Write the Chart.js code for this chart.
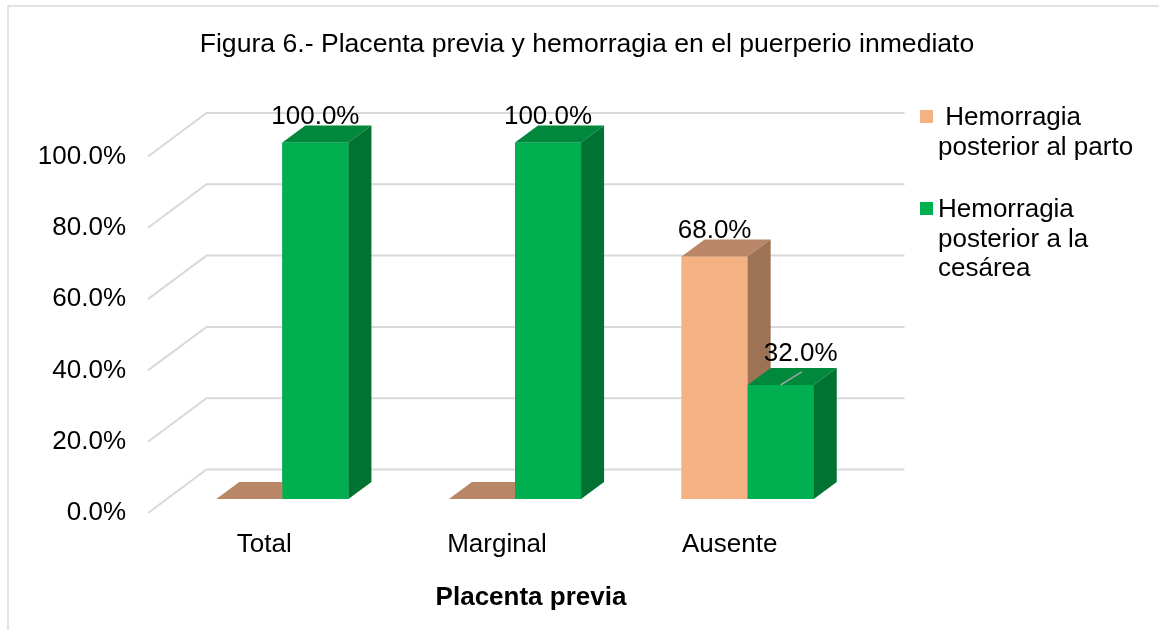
<!DOCTYPE html>
<html>
<head>
<meta charset="utf-8">
<script src="https://cdn.jsdelivr.net/npm/chart.js@4.4.0/dist/chart.umd.min.js"></script>
<style>
  html, body { margin: 0; padding: 0; background: #fff; }
  canvas { display: block; }
</style>
</head>
<body>
<canvas id="chart" width="1159" height="630"></canvas>
<script>
// data
var categories = ['Total', 'Marginal', 'Ausente'];
var partoValues = [0, 0, 68];
var cesareaValues = [100, 100, 32];
var partoName = [' Hemorragia', 'posterior al parto'];
var cesareaName = ['Hemorragia', 'posterior a la', 'cesárea'];
var yTicks = [0, 20, 40, 60, 80, 100];

var FONT = "'Liberation Sans', Arial, sans-serif";
var DEPTH = { x: 58.5, y: -43.5 };   // back wall offset
var BAR_SHIFT = { x: 18, y: -14 };   // bar front face offset from front plane
var BAR_DEPTH = { x: 23, y: -17 };

function pct(v) { return v.toFixed(1) + '%'; }

/**
 * frame + 3D grid walls
 */
var wallsPlugin = {
  id: 'walls',
  beforeDraw: function(chart) {
    var ctx = chart.ctx;
    ctx.save();
    ctx.fillStyle = '#fff';
    ctx.fillRect(0, 0, chart.width, chart.height);
    ctx.strokeStyle = '#D9D9D9';
    ctx.lineWidth = 1.5;
    ctx.strokeRect(8, 6, chart.width + 20, chart.height + 20);
    ctx.restore();
  },
  beforeDatasetsDraw: function(chart) {
    var ctx = chart.ctx, y = chart.scales.y, a = chart.chartArea;
    ctx.save();
    ctx.strokeStyle = '#D9D9D9';
    ctx.lineWidth = 2;
    y.ticks.forEach(function(t) {
      var py = y.getPixelForValue(t.value);
      ctx.beginPath();
      ctx.moveTo(a.left, py);
      ctx.lineTo(a.left + DEPTH.x, py + DEPTH.y);
      ctx.lineTo(a.right + DEPTH.x, py + DEPTH.y);
      ctx.stroke();
    });
    ctx.restore();
  }
};

/**
 * 3D bars: shift the whole bar layer, then redraw each dataset in
 * index order with its top + side faces (so later series sit in front)
 */
var faceColors = [
  { top: '#B98668', side: '#9C7455' },
  { top: '#00883C', side: '#007232' }
];
var barsPlugin = {
  id: 'bars3d',
  beforeDatasetsDraw: function(chart) {
    chart.ctx.save();
    chart.ctx.translate(BAR_SHIFT.x, BAR_SHIFT.y);
  },
  afterDatasetsDraw: function(chart) {
    var ctx = chart.ctx;
    chart.data.datasets.forEach(function(ds, di) {
      var fc = faceColors[di];
      chart.getDatasetMeta(di).data.forEach(function(bar) {
        bar.draw(ctx);
        var l = bar.x - bar.width / 2, r = bar.x + bar.width / 2;
        var t = bar.y, b = bar.base;
        ctx.fillStyle = fc.top;
        ctx.beginPath();
        ctx.moveTo(l, t);
        ctx.lineTo(r, t);
        ctx.lineTo(r + BAR_DEPTH.x, t + BAR_DEPTH.y);
        ctx.lineTo(l + BAR_DEPTH.x, t + BAR_DEPTH.y);
        ctx.closePath();
        ctx.fill();
        if (b - t > 0.5) {
          ctx.fillStyle = fc.side;
          ctx.beginPath();
          ctx.moveTo(r, t);
          ctx.lineTo(r + BAR_DEPTH.x, t + BAR_DEPTH.y);
          ctx.lineTo(r + BAR_DEPTH.x, b + BAR_DEPTH.y);
          ctx.lineTo(r, b);
          ctx.closePath();
          ctx.fill();
        }
      });
    });
    ctx.restore();
  }
};

/**
 * title, value labels, legend, axis title
 */
var labelNudge = { '1-2': { dx: 20, dy: -5, leader: true } };
var textPlugin = {
  id: 'texts',
  afterDraw: function(chart) {
    var ctx = chart.ctx;
    ctx.save();
    ctx.fillStyle = '#000';
    ctx.textAlign = 'center';
    ctx.textBaseline = 'middle';

    ctx.font = '26.6px ' + FONT;
    ctx.fillText('Figura 6.- Placenta previa y hemorragia en el puerperio inmediato', 587, 45);

    ctx.font = '26px ' + FONT;
    chart.data.datasets.forEach(function(ds, di) {
      chart.getDatasetMeta(di).data.forEach(function(bar, i) {
        var v = ds.data[i];
        if (!v) return;
        var cx = bar.x + BAR_SHIFT.x, ty = bar.y + BAR_SHIFT.y;
        var n = labelNudge[di + '-' + i] || { dx: 0, dy: 0 };
        if (n.leader) {
          ctx.strokeStyle = '#A6A6A6';
          ctx.lineWidth = 1.5;
          ctx.beginPath();
          ctx.moveTo(cx, ty);
          ctx.lineTo(cx + 21, ty - 13);
          ctx.stroke();
        }
        ctx.fillText(pct(v), cx + n.dx, ty - 26 + n.dy);
      });
    });

    ctx.font = 'bold 26px ' + FONT;
    ctx.fillText('Placenta previa', 531, 598);

    ctx.font = '26px ' + FONT;
    ctx.textAlign = 'left';
    var items = [
      { lines: partoName, color: chart.data.datasets[0].backgroundColor, y: 117 },
      { lines: cesareaName, color: chart.data.datasets[1].backgroundColor, y: 209 }
    ];
    items.forEach(function(it) {
      ctx.fillStyle = it.color;
      ctx.fillRect(920, it.y - 7, 13, 13);
      ctx.fillStyle = '#000';
      it.lines.forEach(function(s, k) {
        ctx.fillText(s, 938, it.y + 1 + k * 29.5);
      });
    });
    ctx.restore();
  }
};

new Chart(document.getElementById('chart'), {
  type: 'bar',
  data: {
    labels: categories,
    datasets: [
      {
        label: partoName.join(' ').trim(),
        data: partoValues,
        backgroundColor: '#F4B183',
        borderWidth: 0,
        categoryPercentage: 0.568,
        barPercentage: 1
      },
      {
        label: cesareaName.join(' '),
        data: cesareaValues,
        backgroundColor: '#00B050',
        borderWidth: 0,
        categoryPercentage: 0.568,
        barPercentage: 1
      }
    ]
  },
  options: {
    responsive: false,
    animation: false,
    layout: { padding: { top: 156.5, right: 313, bottom: 0, left: 0 } },
    plugins: {
      legend: { display: false },
      title: { display: false },
      tooltip: { enabled: false }
    },
    scales: {
      x: {
        grid: { display: false, drawTicks: false },
        border: { display: false },
        ticks: { color: '#000', padding: 16, font: { size: 26, family: FONT } },
        afterFit: function(s) { s.height = 117; }
      },
      y: {
        min: 0,
        max: 100,
        grid: { display: false, drawTicks: false },
        border: { display: false },
        afterBuildTicks: function(s) { s.ticks = yTicks.map(function(v) { return { value: v }; }); },
        ticks: {
          color: '#000',
          padding: 22,
          font: { size: 26, family: FONT },
          callback: function(v) { return pct(v); }
        },
        afterFit: function(s) { s.width = 148; }
      }
    }
  },
  plugins: [wallsPlugin, barsPlugin, textPlugin]
});
</script>
</body>
</html>
